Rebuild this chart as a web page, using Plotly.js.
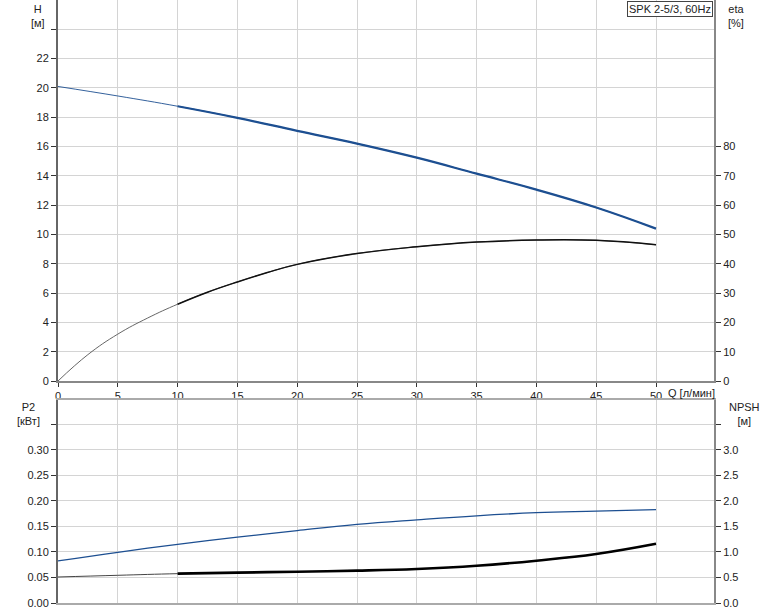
<!DOCTYPE html>
<html>
<head>
<meta charset="utf-8">
<script src="https://cdn.plot.ly/plotly-3.0.1.min.js"></script>
<style>html,body{margin:0;padding:0;background:#fff;}#chart{width:774px;height:611px;}</style>
</head>
<body>
<div id="chart"></div>
<script>
// ---- data ----
const qValues   = [0, 5, 10, 15, 20, 25, 30, 35, 40, 45, 50];          // Q [л/мин]
const headH     = [20.1, 19.45, 18.75, 17.96, 17.07, 16.2, 15.24, 14.15, 13.06, 11.84, 10.4]; // H [м]
const etaQ      = [0, 2.5, 5, 7.5, 10, 12.5, 15, 17.5, 20, 25, 30, 35, 40, 45, 50];         // Q for eta
const effEta    = [0, 9.0, 16.0, 21.5, 26.2, 30.3, 33.8, 37.0, 39.8, 43.5, 45.8, 47.4, 48.1, 48.0, 46.5]; // eta [%]
const powerP2   = [0.0824, 0.0994, 0.115, 0.129, 0.142, 0.154, 0.163, 0.171, 0.177, 0.180, 0.183]; // P2 [кВт]
const npshVals  = [0.51, 0.543, 0.575, 0.595, 0.614, 0.634, 0.667, 0.73, 0.83, 0.96, 1.16];     // NPSH [м]
const xTicks    = [0, 5, 10, 15, 20, 25, 30, 35, 40, 45, 50];
const hTicks    = [0, 2, 4, 6, 8, 10, 12, 14, 16, 18, 20, 22, 24];
const hTickText = ['0','2','4','6','8','10','12','14','16','18','20','22',''];
const etaTicks  = [0, 10, 20, 30, 40, 50, 60, 70, 80];
const p2Ticks   = [0, 0.05, 0.10, 0.15, 0.20, 0.25, 0.30, 0.35];
const p2TickText= ['0.00','0.05','0.10','0.15','0.20','0.25','0.30',''];
const npTicks   = [0, 0.5, 1.0, 1.5, 2.0, 2.5, 3.0, 3.5];
const npTickText= ['0.0','0.5','1.0','1.5','2.0','2.5','3.0',''];
const legendText = 'SPK 2-5/3, 60Hz';

// ---- layout geometry ----
const W = 774, H = 611, L = 58, R = 60, T = 0, B = 8;
const plotW = W - L - R, plotH = H - T - B;
const px = x => (x - L) / plotW;
const py = y => (plotH + T - y) / plotH;

const boldFrom = 10; // Q where the bold part of each curve starts
function bold(xs, ys){
  const i = xs.indexOf(boldFrom);
  return {x: xs.slice(i), y: ys.slice(i)};
}

const blue = '#1d4f91';
const sp = {shape:'spline', smoothing:1.2};
const hB = bold(qValues, headH), eB = bold(etaQ, effEta), nB = bold(qValues, npshVals);
const traces = [
  {x: qValues, y: headH, xaxis:'x', yaxis:'y', mode:'lines', line:Object.assign({color:blue, width:0.9}, sp)},
  {x: hB.x, y: hB.y, xaxis:'x', yaxis:'y', mode:'lines', line:Object.assign({color:blue, width:2.2}, sp)},
  {x: etaQ, y: effEta, xaxis:'x', yaxis:'y3', mode:'lines', line:Object.assign({color:'#555', width:0.9}, sp)},
  {x: eB.x, y: eB.y, xaxis:'x', yaxis:'y3', mode:'lines', line:Object.assign({color:'#111', width:1.5}, sp)},
  {x: qValues, y: powerP2, xaxis:'x2', yaxis:'y2', mode:'lines', line:Object.assign({color:blue, width:1.3}, sp)},
  {x: qValues, y: npshVals, xaxis:'x2', yaxis:'y4', mode:'lines', line:Object.assign({color:'#444', width:1.0}, sp)},
  {x: nB.x, y: nB.y, xaxis:'x2', yaxis:'y4', mode:'lines', line:Object.assign({color:'#000', width:2.6}, sp)}
];

const tf = {family:'"Liberation Sans", Arial, sans-serif', size:11, color:'#222'};
const topBottom = py(381), botTop = py(400);
const xmax = (714 - L) / ((656 - L) / 50);

const layout = {
  width: W, height: H,
  margin: {l:L, r:R, t:T, b:B, pad:0},
  paper_bgcolor:'#fff', plot_bgcolor:'#fff',
  showlegend:false,
  font: tf,
  xaxis: {domain:[0,1], anchor:'y', range:[0,xmax], tickvals:xTicks, ticktext:xTicks.map(String),
          showgrid:true, gridcolor:'#d4d4d4', gridwidth:1, zeroline:false,
          showline:true, linecolor:'#888', linewidth:2, ticks:'outside', ticklen:4, tickcolor:'#333', tickfont:tf},
  xaxis2: {domain:[0,1], anchor:'y2', matches:'x', range:[0,xmax], tickvals:xTicks, showticklabels:false,
          showgrid:true, gridcolor:'#d4d4d4', gridwidth:1, zeroline:false,
          showline:true, mirror:true, linecolor:'#aaa', linewidth:2, ticks:''},
  yaxis: {domain:[topBottom,1], anchor:'x', range:[0,26], tickvals:hTicks, ticktext:hTickText,
          showgrid:true, gridcolor:'#d4d4d4', gridwidth:1, zeroline:false,
          showline:true, linecolor:'#666', linewidth:2, ticks:'outside', ticklen:5, tickcolor:'#333', tickfont:tf},
  yaxis3: {overlaying:'y', anchor:'x', side:'right', range:[0,130], tickvals:etaTicks, ticktext:etaTicks.map(String),
          showgrid:false, zeroline:false, showline:true, linecolor:'#888', linewidth:2,
          ticks:'outside', ticklen:5, tickcolor:'#333', tickfont:tf},
  yaxis2: {domain:[0,botTop], anchor:'x2', range:[0,0.398], tickvals:p2Ticks, ticktext:p2TickText,
          showgrid:true, gridcolor:'#d4d4d4', gridwidth:1, zeroline:false,
          showline:true, linecolor:'#666', linewidth:2, ticks:'outside', ticklen:5, tickcolor:'#333', tickfont:tf},
  yaxis4: {overlaying:'y2', anchor:'x2', side:'right', range:[0,3.98], tickvals:npTicks, ticktext:npTickText,
          showgrid:false, zeroline:false, showline:true, linecolor:'#888', linewidth:2,
          ticks:'outside', ticklen:5, tickcolor:'#333', tickfont:tf},
  annotations: [
    {xref:'paper', yref:'paper', x:px(38), y:py(1), xanchor:'center', yanchor:'top', text:'H<br>[м]', showarrow:false, font:tf, align:'center'},
    {xref:'paper', yref:'paper', x:px(736), y:py(1), xanchor:'center', yanchor:'top', text:'eta<br>[%]', showarrow:false, font:tf, align:'center'},
    {xref:'paper', yref:'paper', x:px(28), y:py(399), xanchor:'center', yanchor:'top', text:'P2<br>[кВт]', showarrow:false, font:tf, align:'center'},
    {xref:'paper', yref:'paper', x:px(744), y:py(399), xanchor:'center', yanchor:'top', text:'NPSH<br>[м]', showarrow:false, font:tf, align:'center'},
    {xref:'paper', yref:'paper', x:px(666), y:py(393), xanchor:'left', yanchor:'middle', text:'Q [л/мин]', showarrow:false, font:tf},
    {xref:'paper', yref:'paper', x:px(713), y:py(1), xanchor:'right', yanchor:'top', text:legendText, showarrow:false,
     font:tf, bordercolor:'#444', borderwidth:1, borderpad:1, bgcolor:'#fff'}
  ]
};

Plotly.newPlot('chart', traces, layout, {staticPlot:true, displayModeBar:false});
</script>
</body>
</html>
